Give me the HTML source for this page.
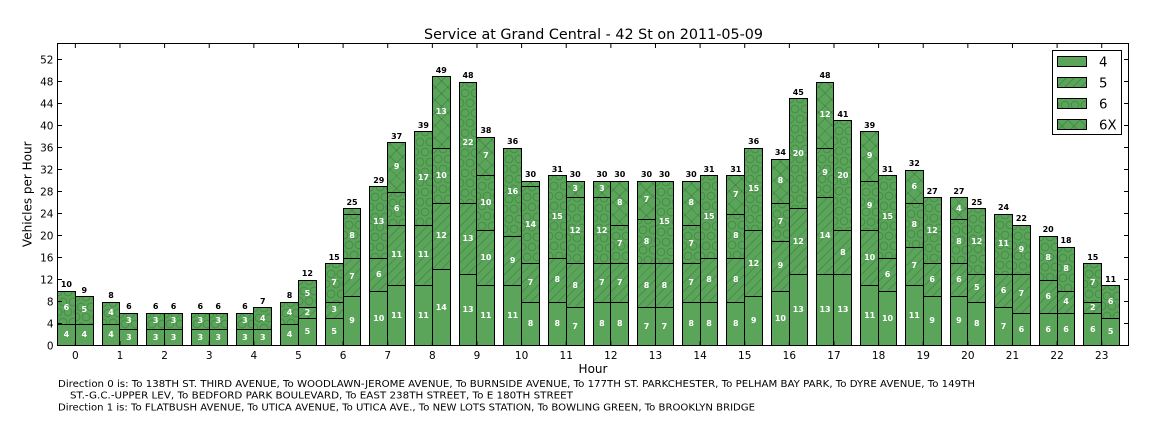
<!DOCTYPE html>
<html><head><meta charset="utf-8">
<style>
html,body{margin:0;padding:0;background:#fff;}
body{width:1152px;height:432px;position:relative;overflow:hidden;font-family:"DejaVu Sans","Liberation Sans",sans-serif;}
.bar{position:absolute;bottom:86.5px;width:18.85px;box-sizing:border-box;border-left:1px solid #000;border-right:1px solid #000;display:flex;flex-direction:column-reverse;}
.bar p{margin:0;flex:none;box-sizing:border-box;height:calc(var(--v)*5.5px);border-top:1px solid #000;display:flex;align-items:center;justify-content:center;color:#fff;font:bold 8px "DejaVu Sans",sans-serif;line-height:1;background-color:#5ba55b;}
.bar i{position:absolute;bottom:calc(100% + 1.5px);left:-6px;right:-6px;text-align:center;font:bold 8px "DejaVu Sans",sans-serif;font-style:normal;line-height:1;color:#000;}
.bar p.b{background-image:repeating-linear-gradient(-45deg,rgba(0,0,0,0) 0 5.5px,rgba(0,50,0,.2) 5.5px 6.5px);}
.bar p.d{background-image:repeating-linear-gradient(-45deg,rgba(0,0,0,0) 0 8px,rgba(0,50,0,.2) 8px 9px),repeating-linear-gradient(45deg,rgba(0,0,0,0) 0 8px,rgba(0,50,0,.2) 8px 9px);}
.bar p.c{background-image:radial-gradient(circle,rgba(0,0,0,0) 3.1px,rgba(0,50,0,.2) 3.4px,rgba(0,50,0,.2) 4.2px,rgba(0,0,0,0) 4.5px),radial-gradient(circle,rgba(0,0,0,0) 3.1px,rgba(0,50,0,.2) 3.4px,rgba(0,50,0,.2) 4.2px,rgba(0,0,0,0) 4.5px);background-size:10px 20px,10px 20px;background-position:0 0,5px 10px;}
svg{position:absolute;left:0;top:0;}
</style></head><body>

<div class="bar" style="left:57px"><i>10</i><p class="a" style="--v:4">4</p><p class="c" style="--v:6">6</p></div>
<div class="bar" style="left:74.85px"><i>9</i><p class="a" style="--v:4">4</p><p class="c" style="--v:5">5</p></div>

<div class="bar" style="left:101.625px"><i>8</i><p class="a" style="--v:4">4</p><p class="c" style="--v:4">4</p></div>
<div class="bar" style="left:119.475px"><i>6</i><p class="a" style="--v:3">3</p><p class="c" style="--v:3">3</p></div>

<div class="bar" style="left:146.25px"><i>6</i><p class="a" style="--v:3">3</p><p class="c" style="--v:3">3</p></div>
<div class="bar" style="left:164.1px"><i>6</i><p class="a" style="--v:3">3</p><p class="c" style="--v:3">3</p></div>

<div class="bar" style="left:190.875px"><i>6</i><p class="a" style="--v:3">3</p><p class="c" style="--v:3">3</p></div>
<div class="bar" style="left:208.725px"><i>6</i><p class="a" style="--v:3">3</p><p class="c" style="--v:3">3</p></div>

<div class="bar" style="left:235.5px"><i>6</i><p class="a" style="--v:3">3</p><p class="c" style="--v:3">3</p></div>
<div class="bar" style="left:253.35px"><i>7</i><p class="a" style="--v:3">3</p><p class="c" style="--v:4">4</p></div>

<div class="bar" style="left:280.125px"><i>8</i><p class="a" style="--v:4">4</p><p class="c" style="--v:4">4</p></div>
<div class="bar" style="left:297.975px"><i>12</i><p class="a" style="--v:5">5</p><p class="b" style="--v:2">2</p><p class="c" style="--v:5">5</p></div>

<div class="bar" style="left:324.75px"><i>15</i><p class="a" style="--v:5">5</p><p class="b" style="--v:3">3</p><p class="c" style="--v:7">7</p></div>
<div class="bar" style="left:342.6px"><i>25</i><p class="a" style="--v:9">9</p><p class="b" style="--v:7">7</p><p class="c" style="--v:8">8</p><p class="d" style="--v:1"></p></div>

<div class="bar" style="left:369.375px"><i>29</i><p class="a" style="--v:10">10</p><p class="b" style="--v:6">6</p><p class="c" style="--v:13">13</p></div>
<div class="bar" style="left:387.225px"><i>37</i><p class="a" style="--v:11">11</p><p class="b" style="--v:11">11</p><p class="c" style="--v:6">6</p><p class="d" style="--v:9">9</p></div>

<div class="bar" style="left:414px"><i>39</i><p class="a" style="--v:11">11</p><p class="b" style="--v:11">11</p><p class="c" style="--v:17">17</p></div>
<div class="bar" style="left:431.85px"><i>49</i><p class="a" style="--v:14">14</p><p class="b" style="--v:12">12</p><p class="c" style="--v:10">10</p><p class="d" style="--v:13">13</p></div>

<div class="bar" style="left:458.625px"><i>48</i><p class="a" style="--v:13">13</p><p class="b" style="--v:13">13</p><p class="c" style="--v:22">22</p></div>
<div class="bar" style="left:476.475px"><i>38</i><p class="a" style="--v:11">11</p><p class="b" style="--v:10">10</p><p class="c" style="--v:10">10</p><p class="d" style="--v:7">7</p></div>

<div class="bar" style="left:503.25px"><i>36</i><p class="a" style="--v:11">11</p><p class="b" style="--v:9">9</p><p class="c" style="--v:16">16</p></div>
<div class="bar" style="left:521.1px"><i>30</i><p class="a" style="--v:8">8</p><p class="b" style="--v:7">7</p><p class="c" style="--v:14">14</p><p class="d" style="--v:1"></p></div>

<div class="bar" style="left:547.875px"><i>31</i><p class="a" style="--v:8">8</p><p class="b" style="--v:8">8</p><p class="c" style="--v:15">15</p></div>
<div class="bar" style="left:565.725px"><i>30</i><p class="a" style="--v:7">7</p><p class="b" style="--v:8">8</p><p class="c" style="--v:12">12</p><p class="d" style="--v:3">3</p></div>

<div class="bar" style="left:592.5px"><i>30</i><p class="a" style="--v:8">8</p><p class="b" style="--v:7">7</p><p class="c" style="--v:12">12</p><p class="d" style="--v:3">3</p></div>
<div class="bar" style="left:610.35px"><i>30</i><p class="a" style="--v:8">8</p><p class="b" style="--v:7">7</p><p class="c" style="--v:7">7</p><p class="d" style="--v:8">8</p></div>

<div class="bar" style="left:637.125px"><i>30</i><p class="a" style="--v:7">7</p><p class="b" style="--v:8">8</p><p class="c" style="--v:8">8</p><p class="d" style="--v:7">7</p></div>
<div class="bar" style="left:654.975px"><i>30</i><p class="a" style="--v:7">7</p><p class="b" style="--v:8">8</p><p class="c" style="--v:15">15</p></div>

<div class="bar" style="left:681.75px"><i>30</i><p class="a" style="--v:8">8</p><p class="b" style="--v:7">7</p><p class="c" style="--v:7">7</p><p class="d" style="--v:8">8</p></div>
<div class="bar" style="left:699.6px"><i>31</i><p class="a" style="--v:8">8</p><p class="b" style="--v:8">8</p><p class="c" style="--v:15">15</p></div>

<div class="bar" style="left:726.375px"><i>31</i><p class="a" style="--v:8">8</p><p class="b" style="--v:8">8</p><p class="c" style="--v:8">8</p><p class="d" style="--v:7">7</p></div>
<div class="bar" style="left:744.225px"><i>36</i><p class="a" style="--v:9">9</p><p class="b" style="--v:12">12</p><p class="c" style="--v:15">15</p></div>

<div class="bar" style="left:771px"><i>34</i><p class="a" style="--v:10">10</p><p class="b" style="--v:9">9</p><p class="c" style="--v:7">7</p><p class="d" style="--v:8">8</p></div>
<div class="bar" style="left:788.85px"><i>45</i><p class="a" style="--v:13">13</p><p class="b" style="--v:12">12</p><p class="c" style="--v:20">20</p></div>

<div class="bar" style="left:815.625px"><i>48</i><p class="a" style="--v:13">13</p><p class="b" style="--v:14">14</p><p class="c" style="--v:9">9</p><p class="d" style="--v:12">12</p></div>
<div class="bar" style="left:833.475px"><i>41</i><p class="a" style="--v:13">13</p><p class="b" style="--v:8">8</p><p class="c" style="--v:20">20</p></div>

<div class="bar" style="left:860.25px"><i>39</i><p class="a" style="--v:11">11</p><p class="b" style="--v:10">10</p><p class="c" style="--v:9">9</p><p class="d" style="--v:9">9</p></div>
<div class="bar" style="left:878.1px"><i>31</i><p class="a" style="--v:10">10</p><p class="b" style="--v:6">6</p><p class="c" style="--v:15">15</p></div>

<div class="bar" style="left:904.875px"><i>32</i><p class="a" style="--v:11">11</p><p class="b" style="--v:7">7</p><p class="c" style="--v:8">8</p><p class="d" style="--v:6">6</p></div>
<div class="bar" style="left:922.725px"><i>27</i><p class="a" style="--v:9">9</p><p class="b" style="--v:6">6</p><p class="c" style="--v:12">12</p></div>

<div class="bar" style="left:949.5px"><i>27</i><p class="a" style="--v:9">9</p><p class="b" style="--v:6">6</p><p class="c" style="--v:8">8</p><p class="d" style="--v:4">4</p></div>
<div class="bar" style="left:967.35px"><i>25</i><p class="a" style="--v:8">8</p><p class="b" style="--v:5">5</p><p class="c" style="--v:12">12</p></div>

<div class="bar" style="left:994.125px"><i>24</i><p class="a" style="--v:7">7</p><p class="b" style="--v:6">6</p><p class="c" style="--v:11">11</p></div>
<div class="bar" style="left:1011.975px"><i>22</i><p class="a" style="--v:6">6</p><p class="b" style="--v:7">7</p><p class="c" style="--v:9">9</p></div>

<div class="bar" style="left:1038.75px"><i>20</i><p class="a" style="--v:6">6</p><p class="b" style="--v:6">6</p><p class="c" style="--v:8">8</p></div>
<div class="bar" style="left:1056.6px"><i>18</i><p class="a" style="--v:6">6</p><p class="b" style="--v:4">4</p><p class="c" style="--v:8">8</p></div>

<div class="bar" style="left:1083.375px"><i>15</i><p class="a" style="--v:6">6</p><p class="b" style="--v:2">2</p><p class="c" style="--v:7">7</p></div>
<div class="bar" style="left:1101.225px"><i>11</i><p class="a" style="--v:5">5</p><p class="c" style="--v:6">6</p></div>

<svg width="1152" height="432" viewBox="0 0 1152 432" xmlns="http://www.w3.org/2000/svg">
<defs>
<pattern id="ps" width="8" height="8" patternUnits="userSpaceOnUse"><path d="M-1 9L9 -1M-3 3L3 -3M5 11L11 5" stroke="rgba(0,50,0,0.25)" stroke-width="1"/></pattern>
<pattern id="pc" width="10" height="20" patternUnits="userSpaceOnUse"><circle cx="5" cy="5" r="3.8" fill="none" stroke="rgba(0,50,0,0.25)"/><circle cx="0" cy="15" r="3.8" fill="none" stroke="rgba(0,50,0,0.25)"/><circle cx="10" cy="15" r="3.8" fill="none" stroke="rgba(0,50,0,0.25)"/></pattern>
<pattern id="px" width="12" height="12" patternUnits="userSpaceOnUse"><path d="M0 12L12 0M0 0L12 12" stroke="rgba(0,50,0,0.25)" stroke-width="1"/></pattern>
</defs>

<!-- axes frame -->
<rect x="57.5" y="43.5" width="1071" height="302" fill="none" stroke="#000" stroke-width="1"/>

<!-- x ticks -->
<path stroke="#000" stroke-width="1" fill="none" d="
M75.35 345V341M75.35 44V48
M119.975 345V341M119.975 44V48
M164.6 345V341M164.6 44V48
M209.225 345V341M209.225 44V48
M253.85 345V341M253.85 44V48
M298.475 345V341M298.475 44V48
M343.1 345V341M343.1 44V48
M387.725 345V341M387.725 44V48
M432.35 345V341M432.35 44V48
M476.975 345V341M476.975 44V48
M521.6 345V341M521.6 44V48
M566.225 345V341M566.225 44V48
M610.85 345V341M610.85 44V48
M655.475 345V341M655.475 44V48
M700.1 345V341M700.1 44V48
M744.725 345V341M744.725 44V48
M789.35 345V341M789.35 44V48
M833.975 345V341M833.975 44V48
M878.6 345V341M878.6 44V48
M923.225 345V341M923.225 44V48
M967.85 345V341M967.85 44V48
M1012.475 345V341M1012.475 44V48
M1057.1 345V341M1057.1 44V48
M1101.725 345V341M1101.725 44V48"/>

<!-- y ticks -->
<path stroke="#000" stroke-width="1" fill="none" d="
M58 323.5H62M1128 323.5H1124
M58 301.5H62M1128 301.5H1124
M58 279.5H62M1128 279.5H1124
M58 257.5H62M1128 257.5H1124
M58 235.5H62M1128 235.5H1124
M58 213.5H62M1128 213.5H1124
M58 191.5H62M1128 191.5H1124
M58 169.5H62M1128 169.5H1124
M58 147.5H62M1128 147.5H1124
M58 125.5H62M1128 125.5H1124
M58 103.5H62M1128 103.5H1124
M58 81.5H62M1128 81.5H1124
M58 59.5H62M1128 59.5H1124"/>

<g font-family="DejaVu Sans, Liberation Sans, sans-serif" font-size="10.5" fill="#000" text-anchor="end">
<text x="53.5" y="349.3">0</text>
<text x="53.5" y="327.3">4</text>
<text x="53.5" y="305.3">8</text>
<text x="53.5" y="283.3">12</text>
<text x="53.5" y="261.3">16</text>
<text x="53.5" y="239.3">20</text>
<text x="53.5" y="217.3">24</text>
<text x="53.5" y="195.3">28</text>
<text x="53.5" y="173.3">32</text>
<text x="53.5" y="151.3">36</text>
<text x="53.5" y="129.3">40</text>
<text x="53.5" y="107.3">44</text>
<text x="53.5" y="85.3">48</text>
<text x="53.5" y="63.3">52</text>
</g>

<g font-family="DejaVu Sans, Liberation Sans, sans-serif" font-size="10.5" fill="#000" text-anchor="middle">
<text x="75.35" y="359">0</text>
<text x="119.975" y="359">1</text>
<text x="164.6" y="359">2</text>
<text x="209.225" y="359">3</text>
<text x="253.85" y="359">4</text>
<text x="298.475" y="359">5</text>
<text x="343.1" y="359">6</text>
<text x="387.725" y="359">7</text>
<text x="432.35" y="359">8</text>
<text x="476.975" y="359">9</text>
<text x="521.6" y="359">10</text>
<text x="566.225" y="359">11</text>
<text x="610.85" y="359">12</text>
<text x="655.475" y="359">13</text>
<text x="700.1" y="359">14</text>
<text x="744.725" y="359">15</text>
<text x="789.35" y="359">16</text>
<text x="833.975" y="359">17</text>
<text x="878.6" y="359">18</text>
<text x="923.225" y="359">19</text>
<text x="967.85" y="359">20</text>
<text x="1012.475" y="359">21</text>
<text x="1057.1" y="359">22</text>
<text x="1101.725" y="359">23</text>
</g>

<text x="593" y="373" font-family="DejaVu Sans, Liberation Sans, sans-serif" font-size="12" text-anchor="middle">Hour</text>
<text transform="translate(31.5,194.25) rotate(-90)" font-family="DejaVu Sans, Liberation Sans, sans-serif" font-size="12" text-anchor="middle">Vehicles per Hour</text>

<text x="424" y="39" font-family="DejaVu Sans, Liberation Sans, sans-serif" font-size="14.4" textLength="339" lengthAdjust="spacingAndGlyphs">Service at Grand Central - 42 St on 2011-05-09</text>

<!-- legend -->
<rect x="1052.5" y="50.5" width="69" height="84" fill="#fff" stroke="#000" stroke-width="1"/>
<rect x="1057.5" y="56.5" width="29" height="10" fill="#5ba55b" stroke="#000" stroke-width="1"/>
<rect x="1057.5" y="77.5" width="29" height="10" fill="#5ba55b" stroke="#000" stroke-width="1"/>
<rect x="1057.5" y="77.5" width="29" height="10" fill="url(#ps)"/>
<rect x="1057.5" y="98.5" width="29" height="10" fill="#5ba55b" stroke="#000" stroke-width="1"/>
<rect x="1057.5" y="98.5" width="29" height="10" fill="url(#pc)"/>
<rect x="1057.5" y="119.5" width="29" height="10" fill="#5ba55b" stroke="#000" stroke-width="1"/>
<rect x="1057.5" y="119.5" width="29" height="10" fill="url(#px)"/>
<g font-family="DejaVu Sans, Liberation Sans, sans-serif" font-size="13.3" fill="#000">
<text x="1099" y="66.3">4</text>
<text x="1099" y="87.3">5</text>
<text x="1099" y="108.3">6</text>
<text x="1099" y="129.3">6X</text>
</g>

<!-- footer -->
<g font-family="DejaVu Sans, Liberation Sans, sans-serif" font-size="10" fill="#000">
<text x="58" y="387" textLength="917" lengthAdjust="spacingAndGlyphs">Direction 0 is: To 138TH ST. THIRD AVENUE, To WOODLAWN-JEROME AVENUE, To BURNSIDE AVENUE, To 177TH ST. PARKCHESTER, To PELHAM BAY PARK, To DYRE AVENUE, To 149TH</text>
<text x="70" y="398.7" textLength="503" lengthAdjust="spacingAndGlyphs">ST.-G.C.-UPPER LEV, To BEDFORD PARK BOULEVARD, To EAST 238TH STREET, To E 180TH STREET</text>
<text x="58" y="410.3" textLength="697" lengthAdjust="spacingAndGlyphs">Direction 1 is: To FLATBUSH AVENUE, To UTICA AVENUE, To UTICA AVE., To NEW LOTS STATION, To BOWLING GREEN, To BROOKLYN BRIDGE</text>
</g>
</svg>
</body></html>
